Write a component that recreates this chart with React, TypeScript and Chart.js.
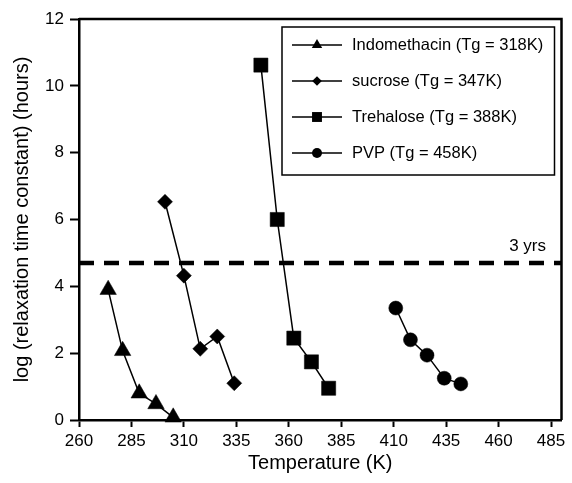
import React, { useEffect, useRef } from 'react';
import { Chart, registerables } from 'chart.js';

Chart.register(...registerables);

const FONT = "'Liberation Sans', Arial, Helvetica, sans-serif";

// ---- data ----
const INDO_T = [273.9, 280.8, 288.7, 296.7, 304.9];
const INDO_LOG = [3.9, 2.07, 0.8, 0.48, 0.08];
const SUCROSE_T = [301, 310, 317.8, 325.9, 334];
const SUCROSE_LOG = [6.53, 4.32, 2.13, 2.5, 1.1];
const TREH_T = [346.7, 354.5, 362.4, 370.8, 379];
const TREH_LOG = [10.62, 6.0, 2.45, 1.74, 0.95];
const PVP_T = [411, 418, 425.9, 434.1, 442];
const PVP_LOG = [3.35, 2.4, 1.94, 1.25, 1.08];

const SERIES_LABELS = [
  'Indomethacin (Tg = 318K)',
  'sucrose (Tg = 347K)',
  'Trehalose (Tg = 388K)',
  'PVP (Tg = 458K)',
];
const SERIES_MARKERS = ['triangle', 'rectRot', 'rect', 'circle'];

const X_TICKS = [260, 285, 310, 335, 360, 385, 410, 435, 460, 485];
const Y_TICKS = [0, 2, 4, 6, 8, 10, 12];
const X_MIN = 260;
const X_MAX = 490;
const Y_MIN = 0;
const Y_MAX = 12;

const THREE_YEARS_LOG = 4.7;
const THREE_YEARS_LABEL = '3 yrs';

const X_TITLE = 'Temperature (K)';
const Y_TITLE = 'log (relaxation time constant) (hours)';

const toPoints = (xs: number[], ys: number[]) => xs.map((x, i) => ({ x, y: ys[i] }));

function drawMarker(ctx: CanvasRenderingContext2D, style: string, x: number, y: number, r: number) {
  ctx.beginPath();
  if (style === 'triangle') {
    for (let k = 0; k < 3; k++) {
      const a = (k * 2 * Math.PI) / 3;
      const px = x + Math.sin(a) * r;
      const py = y - Math.cos(a) * r;
      if (k === 0) ctx.moveTo(px, py);
      else ctx.lineTo(px, py);
    }
    ctx.closePath();
  } else if (style === 'rectRot') {
    ctx.moveTo(x, y - r);
    ctx.lineTo(x + r, y);
    ctx.lineTo(x, y + r);
    ctx.lineTo(x - r, y);
    ctx.closePath();
  } else if (style === 'rect') {
    const s = r * Math.SQRT1_2;
    ctx.rect(x - s, y - s, 2 * s, 2 * s);
  } else {
    ctx.arc(x, y, r, 0, Math.PI * 2);
  }
  ctx.fill();
}

const decorPlugin = {
  id: 'decor',
  afterDraw(chart: any) {
    const ctx: CanvasRenderingContext2D = chart.ctx;
    const { left, top, right, bottom } = chart.chartArea;
    const xs = chart.scales.x;
    const ys = chart.scales.y;
    ctx.save();
    // top and right frame
    ctx.strokeStyle = '#000';
    ctx.lineWidth = 2.5;
    ctx.beginPath();
    ctx.moveTo(left, top);
    ctx.lineTo(right, top);
    ctx.lineTo(right, bottom);
    ctx.stroke();

    // threshold label
    ctx.fillStyle = '#000';
    ctx.font = `17px ${FONT}`;
    ctx.textAlign = 'right';
    ctx.textBaseline = 'middle';
    ctx.fillText(THREE_YEARS_LABEL, xs.getPixelForValue(X_TICKS[X_TICKS.length - 1]) - 5, ys.getPixelForValue(THREE_YEARS_LOG) - 17);

    // legend box
    const bx = left + 203;
    const by = top + 8;
    const bw = right - 7 - bx;
    const bh = 148;
    ctx.fillStyle = '#fff';
    ctx.fillRect(bx, by, bw, bh);
    ctx.lineWidth = 1.5;
    ctx.strokeStyle = '#000';
    ctx.strokeRect(bx, by, bw, bh);
    const radii = [6, 4.8, 7, 5];
    SERIES_LABELS.forEach((label, i) => {
      const ry = by + 18 + i * 36;
      ctx.beginPath();
      ctx.lineWidth = 1.5;
      ctx.moveTo(bx + 10, ry);
      ctx.lineTo(bx + 60, ry);
      ctx.stroke();
      ctx.fillStyle = '#000';
      drawMarker(ctx, SERIES_MARKERS[i], bx + 35, ry, radii[i]);
      ctx.font = `16.5px ${FONT}`;
      ctx.textAlign = 'left';
      ctx.textBaseline = 'middle';
      ctx.fillText(label, bx + 70, ry);
    });
    ctx.restore();
  },
};

export default function App() {
  const canvasRef = useRef<HTMLCanvasElement | null>(null);

  useEffect(() => {
    if (!canvasRef.current) return;
    const series = [
      { t: INDO_T, v: INDO_LOG, r: 9.5 },
      { t: SUCROSE_T, v: SUCROSE_LOG, r: 7.5 },
      { t: TREH_T, v: TREH_LOG, r: 10 },
      { t: PVP_T, v: PVP_LOG, r: 7 },
    ];
    const datasets: any[] = series.map((s, i) => ({
      label: SERIES_LABELS[i],
      data: toPoints(s.t, s.v),
      showLine: true,
      borderColor: '#000',
      borderWidth: 1.5,
      backgroundColor: '#000',
      pointStyle: SERIES_MARKERS[i],
      pointRadius: s.r,
      pointBackgroundColor: '#000',
      pointBorderColor: '#000',
      pointBorderWidth: 0.5,
      clip: false,
    }));
    datasets.push({
      label: THREE_YEARS_LABEL,
      data: [
        { x: X_MIN, y: THREE_YEARS_LOG },
        { x: X_MAX, y: THREE_YEARS_LOG },
      ],
      showLine: true,
      borderColor: '#000',
      borderWidth: 4.5,
      borderDash: [15, 10],
      pointRadius: 0,
    });

    const chart = new Chart(canvasRef.current, {
      type: 'scatter',
      data: { datasets },
      plugins: [decorPlugin],
      options: {
        animation: false,
        responsive: false,
        devicePixelRatio: 1,
        layout: { padding: { left: 0, top: 19, right: 7, bottom: 0 } },
        plugins: { legend: { display: false }, tooltip: { enabled: false } },
        scales: {
          x: {
            type: 'linear',
            min: X_MIN,
            max: X_MAX,
            afterBuildTicks: (axis: any) => {
              axis.ticks = X_TICKS.map((value) => ({ value }));
            },
            afterFit: (axis: any) => {
              axis.height = 63;
            },
            ticks: { color: '#000', font: { family: FONT, size: 17 }, padding: 4, maxRotation: 0, autoSkip: false },
            grid: { drawOnChartArea: false, drawTicks: true, tickLength: 7, tickWidth: 2, tickColor: '#000' },
            border: { display: true, color: '#000', width: 2.5 },
            title: {
              display: true,
              text: X_TITLE,
              color: '#000',
              font: { family: FONT, size: 20, lineHeight: 1.2 },
              padding: { top: 0, bottom: 8 },
            },
          },
          y: {
            type: 'linear',
            min: Y_MIN,
            max: Y_MAX,
            afterBuildTicks: (axis: any) => {
              axis.ticks = Y_TICKS.map((value) => ({ value }));
            },
            afterFit: (axis: any) => {
              axis.width = 79;
            },
            ticks: { color: '#000', font: { family: FONT, size: 17 }, padding: 6, autoSkip: false },
            grid: { drawOnChartArea: false, drawTicks: true, tickLength: 9, tickWidth: 2, tickColor: '#000' },
            border: { display: true, color: '#000', width: 2.5 },
            title: {
              display: true,
              text: Y_TITLE,
              color: '#000',
              font: { family: FONT, size: 20, lineHeight: 1.2 },
              padding: { top: 10, bottom: 0 },
            },
          },
        },
      } as any,
    });
    return () => chart.destroy();
  }, []);

  return (
    <div style={{ position: 'absolute', left: 0, top: 0, width: 572, height: 483, background: '#fff' }}>
      <canvas ref={canvasRef} width={572} height={483} style={{ width: 572, height: 483, display: 'block' }} />
    </div>
  );
}
